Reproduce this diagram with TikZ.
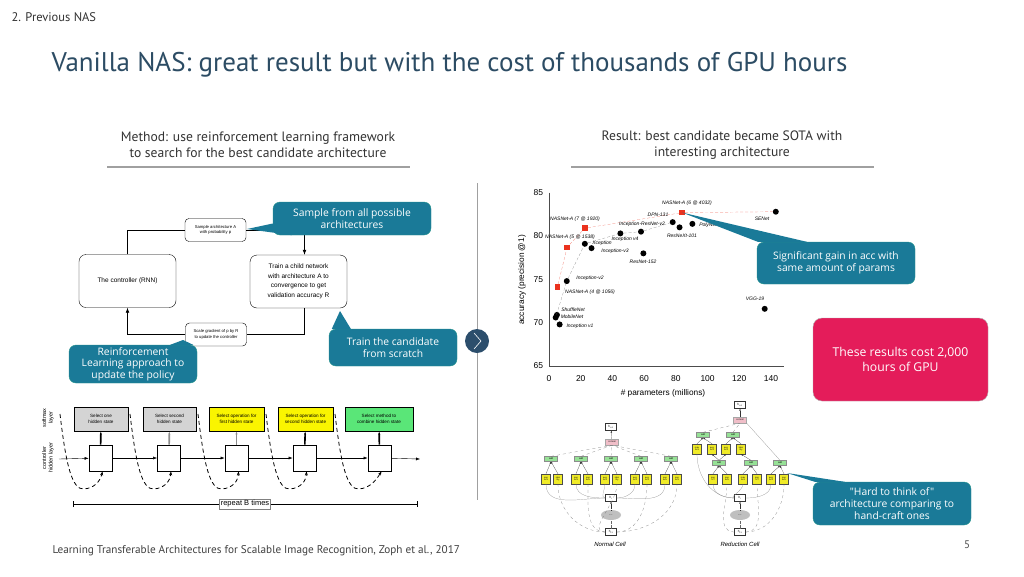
\documentclass[tikz,border=0pt]{standalone}
\usepackage{fontspec}
\setmainfont{PT Sans}
\newfontfamily\notefont{Open Sans}
\newfontfamily\figfont{Liberation Sans}
\usetikzlibrary{positioning, calc, arrows.meta, shapes.geometric}

\definecolor{titleblue}{RGB}{44,76,100}
\definecolor{noteteal}{RGB}{26,122,152}
\definecolor{noteedge}{RGB}{38,150,140}
\definecolor{costred}{RGB}{228,28,90}
\definecolor{navdark}{RGB}{44,78,108}
\definecolor{rulegray}{RGB}{160,160,160}
\definecolor{selgray}{RGB}{212,212,212}
\definecolor{selyellow}{RGB}{250,245,0}
\definecolor{selgreen}{RGB}{90,230,120}
\definecolor{catpink}{RGB}{240,190,200}
\definecolor{opyellow}{RGB}{240,235,40}
\definecolor{addgreen}{RGB}{150,225,150}
\definecolor{nasred}{RGB}{235,50,30}

\tikzset{
  note/.style={fill=noteteal, draw=noteedge, rounded corners=7pt, text=white,
    align=center, inner sep=0pt, font=\notefont\fontsize{10.3}{11.7}\selectfont},
  flowbox/.style={draw, rounded corners=7pt, align=center, inner sep=0pt,
    font=\figfont\fontsize{6.5}{9.5}\selectfont},
  tagbox/.style={draw, fill=white, rounded corners=4pt, align=center, inner sep=0pt,
    font=\figfont\fontsize{4.2}{5.5}\selectfont},
  flowline/.style={semithick},
  selbox/.style={draw, thick, minimum height=24pt, inner sep=0pt, align=center,
    font=\figfont\fontsize{4.6}{6.5}\selectfont},
  cellbox/.style={draw, thick, fill=white, minimum width=23pt, minimum height=26pt},
  dashcurve/.style={thick, dash pattern=on 4pt off 3pt, -{Stealth[length=4pt]}},
  dot/.style={circle, fill=black, minimum size=6pt, inner sep=0pt},
  nassq/.style={rectangle, fill=nasred, minimum size=5.5pt, inner sep=0pt},
  plotlabel/.style={font=\figfont\itshape\fontsize{5}{6}\selectfont},
  ticklabel/.style={font=\figfont\fontsize{8.5}{10}\selectfont},
  opbox/.style={draw=black!70, fill=opyellow, minimum width=9pt, minimum height=10pt,
    inner sep=0pt, align=center, font=\figfont\fontsize{2.2}{2.6}\selectfont},
  addbox/.style={draw=black!45, fill=addgreen, minimum width=13pt, minimum height=5pt,
    inner sep=0pt, font=\figfont\fontsize{2.4}{3}\selectfont},
  catbox/.style={draw=black!35, fill=catpink, minimum width=13pt, minimum height=6pt,
    inner sep=0pt, font=\figfont\fontsize{2.4}{3}\selectfont},
  hbox/.style={draw=black!80, fill=white, minimum width=11pt, minimum height=7pt,
    inner sep=0pt, font=\figfont\fontsize{3}{3.5}\selectfont},
  cellline/.style={draw=black!45, very thin},
  celldash/.style={draw=black!55, very thin, dashed},
  cellarrow/.style={draw=black!80, very thin, -{Latex[length=2pt]}},
}

\begin{document}
\begin{tikzpicture}[x=1pt, y=-1pt, rule/.style={draw=rulegray, line width=2pt}]
\useasboundingbox[fill=white] (0,0) rectangle (1024,576);

% header
\node[anchor=west, text=black!80, font=\fontsize{12.5}{14}\selectfont] (section) at (8,17) {2. Previous NAS};
\node[anchor=west, text=titleblue, font=\fontsize{27}{32}\selectfont] (title) at (48,65)
  {Vanilla NAS: great result but with the cost of thousands of GPU hours};
\node[align=center, text=black!80, font=\fontsize{13.6}{16}\selectfont] (method) at (258,145)
  {Method: use reinforcement learning framework\\to search for the best candidate architecture};
\node[align=center, text=black!80, font=\fontsize{13.6}{16}\selectfont] (result) at (722,145)
  {Result: best candidate became SOTA with\\interesting architecture};
\draw[rule] (107,167) -- (410,167);
\draw[rule] (571,167) -- (874,167);

% divider
\draw[rulegray, semithick] (477,183) -- (477,500);
\node[circle, fill=navdark, minimum size=24pt, inner sep=0pt] (next) at (477,341) {};
\draw[white, semithick] (474,333) -- (481,341) -- (474,349);

% search loop
\node[flowbox, minimum width=97pt, minimum height=53pt] (ctrl) at (127.5,281) {The controller (RNN)};
\node[flowbox, minimum width=97pt, minimum height=53pt] (child) at (298.5,281.5)
  {Train a child network\\with architecture A to\\convergence to get\\validation accuracy R};
\node[tagbox, minimum width=61pt, minimum height=23pt] (sample) at (215.5,230)
  {Sample architecture A\\with probability p};
\node[tagbox, minimum width=61pt, minimum height=23pt] (scale) at (216,334.5)
  {Scale gradient of p by R\\to update the controller};
\draw[flowline] (ctrl.north) |- (sample.west);
\draw[flowline, -{Latex[length=5pt]}] (sample.east) -| ([xshift=6pt]child.north);
\draw[flowline] ([xshift=6pt]child.south) |- (scale.east);
\draw[flowline, -{Latex[length=5pt]}] (scale.west) -| (ctrl.south);

% callouts on the loop
\node[note, minimum width=158pt, minimum height=33pt] (sampleNote) at (352,218.5)
  {Sample from all possible\\architectures};
\coordinate (sampleTip) at (247,229);
\fill[noteteal] (sampleTip) -- ([yshift=-5pt]sampleNote.west) -- ([xshift=19pt]sampleNote.south west) -- cycle;
\node[note, minimum width=128pt, minimum height=37pt] (trainNote) at (393,347.5)
  {Train the candidate\\from scratch};
\coordinate (trainTip) at (340,311);
\fill[noteteal] (trainTip) -- ([xshift=3pt]trainNote.north west) -- ([xshift=22pt]trainNote.north west) -- cycle;
\node[note, minimum width=128pt, minimum height=38pt] (rlNote) at (133,364)
  {Reinforcement\\Learning approach to\\update the policy};
\coordinate (rlTip) at (183,340);
\fill[noteteal] (rlTip) -- ([xshift=-27pt]rlNote.north east) -- ([xshift=-4pt]rlNote.north east) -- cycle;

% controller unrolled
\node[align=center, rotate=90, font=\figfont\fontsize{5.5}{6.5}\selectfont] (softLbl) at (48,418) {softmax\\layer};
\node[align=center, rotate=90, font=\figfont\fontsize{5.5}{6.5}\selectfont] (hidLbl) at (48,458) {controller\\hidden layer};
\node[selbox, fill=selgray, minimum width=54pt] (sel1) at (101,419) {Select one\\hidden state};
\node[selbox, fill=selgray, minimum width=53pt] (sel2) at (169.5,419) {Select second\\hidden state};
\node[selbox, fill=selyellow, minimum width=55pt] (sel3) at (236.5,419) {Select operation for\\first hidden state};
\node[selbox, fill=selyellow, minimum width=55pt] (sel4) at (305.5,419) {Select operation for\\second hidden state};
\node[selbox, fill=selgreen, minimum width=68pt] (sel5) at (379,419) {Select method to\\combine hidden state};
\foreach \cx [count=\i] in {100.5,169,236.5,304.5,379.5}
  \node[cellbox] (cell\i) at (\cx,458) {};
\coordinate (rnnIn) at (59,459);
\coordinate (rnnOut) at (420,459);
\draw[-{Latex[length=4pt]}] (rnnIn) -- (cell1);
\foreach \i/\j in {1/2,2/3,3/4,4/5}
  \draw[-{Latex[length=4pt]}] (cell\i) -- (cell\j);
\draw[-{Latex[length=4pt]}] (cell5) -- (rnnOut);
\foreach \i/\c in {1/black,2/black!45,3/black!45,4/black,5/black}
  \draw[line width=1.6pt, draw=\c, -{Latex[length=3pt]}] (cell\i) -- (sel\i);
\foreach \xs [count=\i] in {60,130,198,266,335}{
  \coordinate (dstart\i) at (\xs,414);
  \draw[dashcurve] (dstart\i) .. controls ({\xs+6},465) and ({\xs+12},490) .. ({\xs+24},489)
    .. controls ({\xs+34},488) and ({\xs+40},482) .. ([xshift=2pt]cell\i.south);
}
\coordinate (repL) at (73,504);
\coordinate (repR) at (418,504);
\draw[semithick, {Bar[width=6pt]}-{Bar[width=6pt]}] (repL) -- (repR);
\node[draw=black!50, fill=white, inner sep=1.5pt, font=\figfont\fontsize{7.5}{9}\selectfont] (repeat) at (245,504) {repeat B times};

% scatter plot
\node[rotate=90, font=\figfont\fontsize{8.3}{10}\selectfont] (yLbl) at (522,280) {accuracy (precision @1)};
\node[font=\figfont\fontsize{8.3}{10}\selectfont] (xLbl) at (663,393) {\# parameters (millions)};
\begin{scope}[shift={(549,929.6)}, x=1.586pt, y=8.67pt]
  \draw[black!70] (0,85) -- (0,65) -- (148,65);
  \foreach \t in {0,20,...,140}
    \node[ticklabel] (xt\t) at (\t,63.6) {\t};
  \foreach \t in {65,70,...,85}
    \node[ticklabel, anchor=east] (yt\t) at (-1.5,\t) {\t};
  \foreach \px/\py [count=\i] in {4.2/70.6, 5/70.9, 6.7/69.8, 11.2/74.8, 22.6/79.1, 26.8/78.6,
      45/80.3, 58/80.5, 78/81.6, 82.3/81.0, 90.4/81.4, 143/82.8, 59.5/78.0, 136/71.6}
    \node[dot] (net\i) at (\px,\py) {};
  \foreach \px/\py [count=\i] in {5.3/74.1, 11.4/78.7, 22.6/80.9, 84/82.7}
    \node[nassq] (nas\i) at (\px,\py) {};
  \draw[black!50, densely dashed, very thin] (net1) -- (net4) -- (net5) -- (net7) -- (net8) -- (net9);
  \draw[nasred!70, densely dashed, very thin] (nas1) -- (nas2) -- (nas3) -- (nas4) -- (net12);
\end{scope}
\foreach \lx/\ly/\lt [count=\i] in {687/203/{NASNet-A (6 @ 4032)}, 658/215/{DPN-131}, 575/219/{NASNet-A (7 @ 1920)},
    642/224/{Inception-ResNet-v2}, 708/225/{PolyNet}, 762/219/{SENet}, 570/237/{NASNet-A (5 @ 1538)},
    625/239/{Inception v4}, 602/243/{Xception}, 682/236/{ResNeXt-101}, 615/251/{Inception-v3},
    643/262/{ResNet-152}, 590/278/{Inception-v2}, 590/292/{NASNet-A (4 @ 1056)}, 573/310/{ShuffleNet},
    572/317/{MobileNet}, 580/326/{Inception v1}, 755/299/{VGG-19}}
  \node[plotlabel] (net lbl\i) at (\lx,\ly) {\lt};

% normal cell
\node[hbox] (nNext) at (611,427) {h\textsubscript{i+1}};
\node[catbox] (nCat) at (612,442) {concat};
\foreach \ax [count=\i] in {551,581,611,641,671}
  \node[addbox] (nAdd\i) at (\ax,459) {add};
\foreach \ox/\ot [count=\j] in {546/{sep\\3x3}, 558/{iden\\tity}, 576/{sep\\3x3}, 588/{sep\\5x5}, 605/{avg\\3x3},
    617/{iden\\tity}, 635/{avg\\3x3}, 647/{avg\\3x3}, 665/{sep\\5x5}, 677/{sep\\3x3}}
  \node[opbox] (nOp\j) at (\ox,479) {\ot};
\node[hbox] (nHi) at (611,498) {h\textsubscript{i}};
\node[ellipse, fill=black!25, minimum width=20pt, minimum height=10pt, inner sep=0pt,
  font=\fontsize{4}{4}\selectfont] (nCloud) at (611,515) {...};
\node[hbox] (nPrev) at (611,532) {h\textsubscript{i-1}};
\draw[cellarrow] (nCat) -- (nNext);
\foreach \i in {1,...,5}
  \draw[celldash] (nAdd\i.north) -- (nCat.south);
\foreach \j/\i in {1/1,2/1,3/2,4/2,5/3,6/3,7/4,8/4,9/5,10/5}
  \draw[cellarrow] (nOp\j.north) -- (nAdd\i.south);
\foreach \j in {1,3,5}
  \draw[cellline] (nHi.west) to[out=180, in=-90] (nOp\j.south);
\foreach \j in {7,9}
  \draw[cellline] (nHi.east) to[out=0, in=-90] (nOp\j.south);
\foreach \j in {2,4,6}
  \draw[celldash] (nPrev.west) to[out=180, in=-90] (nOp\j.south);
\foreach \j in {8,10}
  \draw[celldash] (nPrev.east) to[out=0, in=-90] (nOp\j.south);
\draw[cellarrow, densely dotted] (nCloud) -- (nHi);
\draw[black!60, densely dotted, very thin] (nPrev) -- (nCloud);
\node[plotlabel, font=\figfont\itshape\fontsize{6}{7}\selectfont] (nName) at (610,544) {Normal Cell};

% reduction cell
\node[hbox] (rNext) at (740,405) {h\textsubscript{i+1}};
\node[catbox] (rCat) at (740,420) {concat};
\node[addbox] (rAdd1) at (703,435) {add};
\node[addbox] (rAdd2) at (733,435) {add};
\node[addbox] (rAdd3) at (719,463) {add};
\node[addbox] (rAdd4) at (751,463) {add};
\node[addbox] (rAdd5) at (780,463) {add};
\foreach \ox/\ot [count=\j] in {697/{max\\3x3}, 712/{avg\\3x3}, 726/{avg\\3x3}, 741/{iden\\tity}}
  \node[opbox] (rTop\j) at (\ox,449) {\ot};
\foreach \ox/\ot [count=\j] in {713/{sep\\7x7}, 727/{sep\\5x5}, 743/{max\\3x3}, 757/{sep\\7x7}, 771/{avg\\3x3}, 784/{sep\\5x5}}
  \node[opbox] (rOp\j) at (\ox,479) {\ot};
\node[hbox] (rHi) at (740,498) {h\textsubscript{i}};
\node[ellipse, fill=black!25, minimum width=20pt, minimum height=10pt, inner sep=0pt,
  font=\fontsize{4}{4}\selectfont] (rCloud) at (740,515) {...};
\node[hbox] (rPrev) at (740,532) {h\textsubscript{i-1}};
\draw[cellarrow] (rCat) -- (rNext);
\draw[celldash] (rAdd1.north) -- (rCat.south);
\draw[celldash] (rAdd2.north) -- (rCat.south);
\draw[cellline] (rAdd5.north) -- (rCat.south east);
\foreach \j/\i in {1/1,2/1,3/2,4/2}
  \draw[cellarrow] (rTop\j.north) -- (rAdd\i.south);
\foreach \j/\i in {1/3,2/3,3/4,4/4,5/5,6/5}
  \draw[cellarrow] (rOp\j.north) -- (rAdd\i.south);
\draw[cellarrow] (rAdd3.north) -- (rTop2.south);
\draw[cellarrow] (rAdd3.north) -- (rTop3.south);
\draw[cellarrow] (rAdd4.north) -- (rTop4.south);
\draw[cellline] (rHi.west) to[out=180, in=-90] (rTop1.south);
\foreach \j in {1,3}
  \draw[cellline] (rHi.west) to[out=180, in=-90] (rOp\j.south);
\foreach \j in {5}
  \draw[cellline] (rHi.east) to[out=0, in=-90] (rOp\j.south);
\foreach \j in {2}
  \draw[celldash] (rPrev.west) to[out=180, in=-90] (rOp\j.south);
\foreach \j in {4,6}
  \draw[celldash] (rPrev.east) to[out=0, in=-90] (rOp\j.south);
\draw[cellarrow, densely dotted] (rCloud) -- (rHi);
\draw[black!60, densely dotted, very thin] (rPrev) -- (rCloud);
\node[plotlabel, font=\figfont\itshape\fontsize{6}{7}\selectfont] (rName) at (740,544) {Reduction Cell};

% result callouts
\node[note, minimum width=158pt, minimum height=42pt] (gainNote) at (836,263)
  {Significant gain in acc with\\same amount of params};
\fill[noteteal] (nas4.center) -- ([xshift=1pt]gainNote.north west) -- ([xshift=50pt]gainNote.north west) -- cycle;
\node[fill=costred, draw=black!30, rounded corners=9pt, text=white, align=center,
  minimum width=175pt, minimum height=83pt, font=\notefont\fontsize{12.2}{15}\selectfont] (costNote) at (900.5,359.5)
  {These results cost 2,000\\hours of GPU};
\node[note, minimum width=158pt, minimum height=43pt] (hardNote) at (892,503.5)
  {"Hard to think of"\\architecture comparing to\\hand-craft ones};
\coordinate (hardTip) at (787,473);
\fill[noteteal] (hardTip) -- ([xshift=2pt]hardNote.north west) -- ([xshift=32pt]hardNote.north west) -- cycle;

% footer
\node[anchor=west, text=black!75, font=\fontsize{11.2}{13}\selectfont] (source) at (49,551)
  {Learning Transferable Architectures for Scalable Image Recognition, Zoph et al., 2017};
\node[text=black!70, font=\fontsize{11}{13}\selectfont] (page) at (967,545) {5};
\end{tikzpicture}
\end{document}
